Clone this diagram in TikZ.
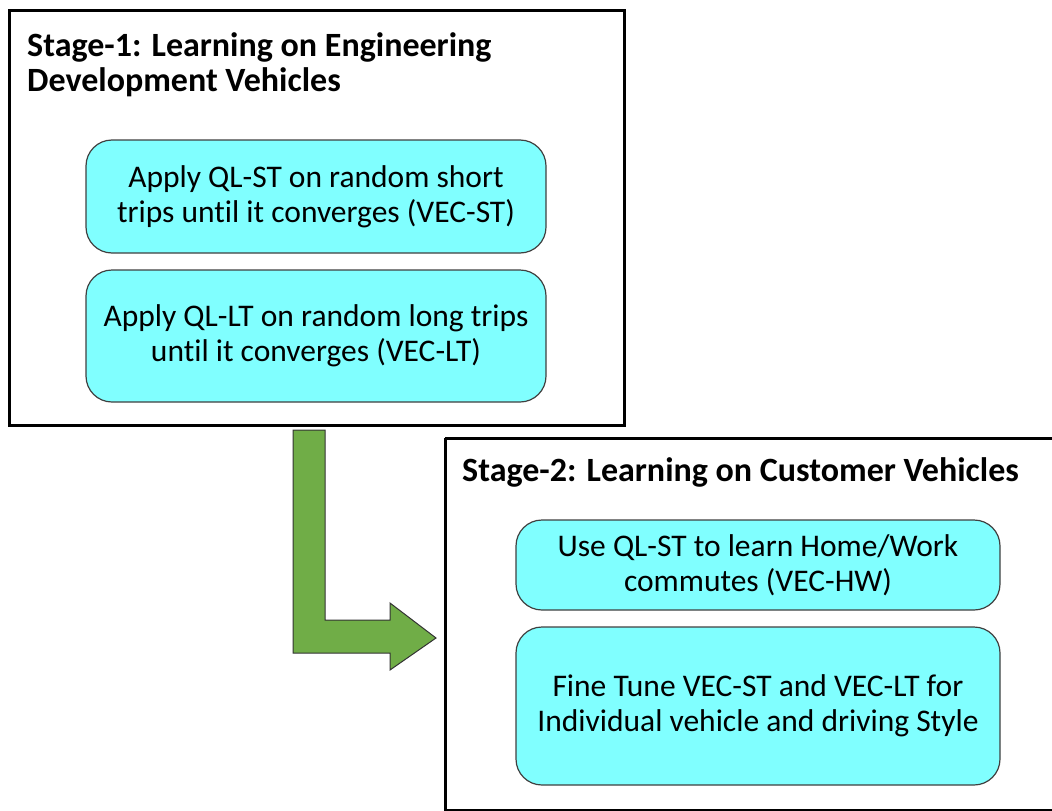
\documentclass[tikz,border=0pt]{standalone}
\usepackage{fontspec}
\setmainfont{Carlito}[Ligatures=NoCommon]
\definecolor{boxcyan}{HTML}{80FFFF}
\definecolor{arrowgreen}{HTML}{70AD47}
\definecolor{edgegray}{HTML}{404040}
\begin{document}
\begin{tikzpicture}[x=1pt,y=-1pt,
  stagebox/.style={draw=black,line width=3pt},
  taskbox/.style={draw=edgegray,fill=boxcyan,line width=1.2pt,rounded corners=26pt,
    align=center,inner sep=0pt,font=\fontsize{31.5}{35}\selectfont},
  titletext/.style={anchor=base west,align=left,inner sep=0pt,font=\bfseries\fontsize{34}{35}\selectfont}]
\useasboundingbox (0,0) rectangle (1052,811);
% Stage 1
\draw[stagebox] (9,10) rectangle (624,425);
\node[titletext] (t1) at (27,91) {Stage-1: Learning on Engineering\\Development Vehicles};
\node[taskbox,minimum width=460pt,minimum height=113pt] (b1) at (316,196.5)
  {Apply QL-ST on random short\\trips until it converges (VEC-ST)};
\node[taskbox,minimum width=460pt,minimum height=132pt] (b2) at (316,336)
  {Apply QL-LT on random long trips\\until it converges (VEC-LT)};
% Stage 2
\draw[stagebox] (445,438) -- (1062,438) (445,438) -- (445,810) -- (1062,810);
\node[titletext] (t2) at (462,481) {Stage-2: Learning on Customer Vehicles};
\node[taskbox,minimum width=484pt,minimum height=90pt] (b3) at (758,565)
  {Use QL-ST to learn Home/Work\\commutes (VEC-HW)};
\node[taskbox,minimum width=484pt,minimum height=158pt] (b4) at (758,706)
  {Fine Tune VEC-ST and VEC-LT for\\Individual vehicle and driving Style};
% Bent arrow
\draw[fill=arrowgreen,draw=black!80,line width=1pt,line join=miter]
  (293,430) -- (325,430) -- (325,620) -- (390,620) -- (390,603) -- (436,638)
  -- (390,670) -- (390,653) -- (293,653) -- cycle;
\end{tikzpicture}
\end{document}
